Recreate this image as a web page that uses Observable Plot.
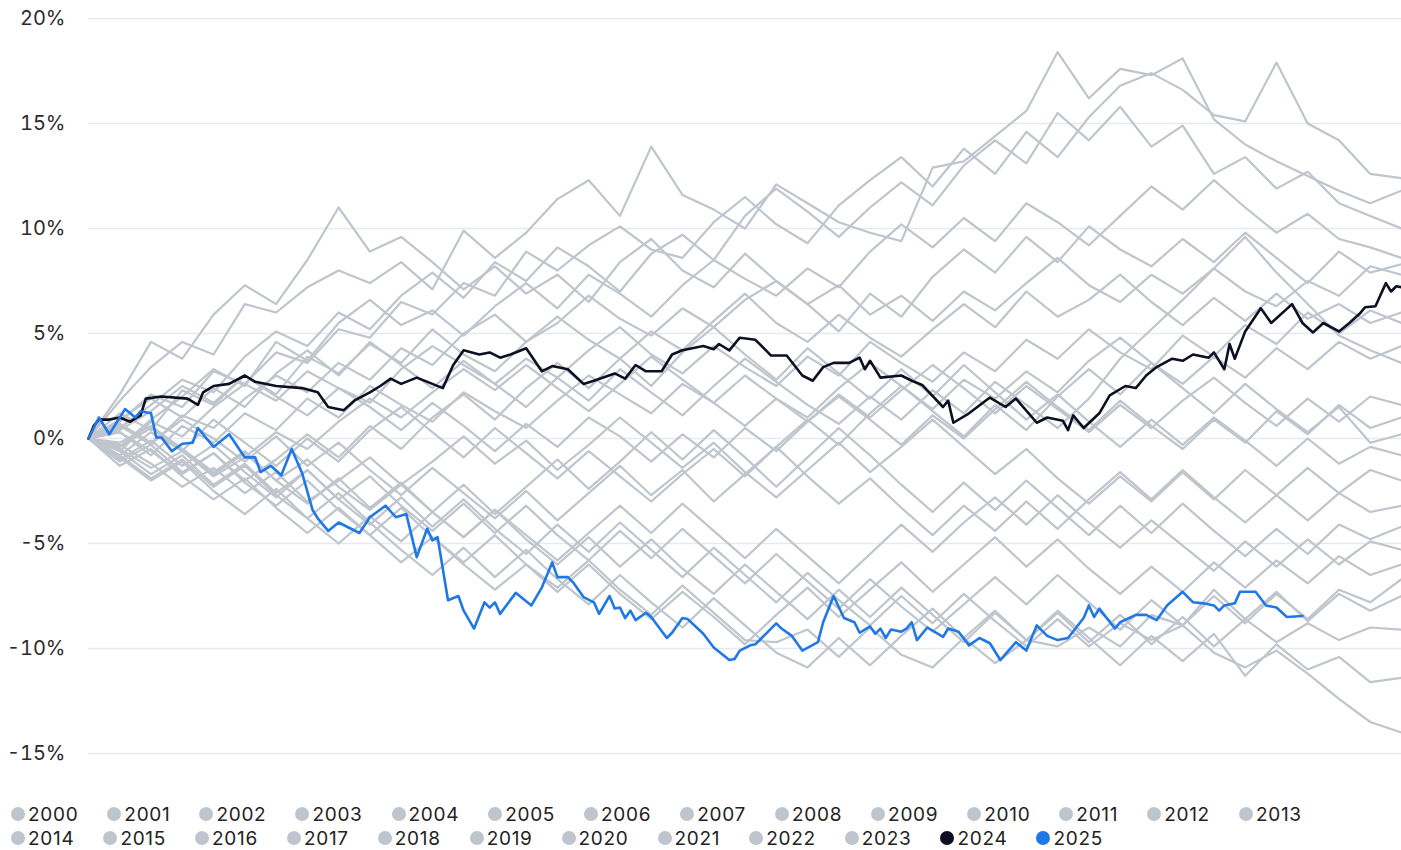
<!DOCTYPE html>
<html>
<head>
<meta charset="utf-8">
<script src="https://cdn.jsdelivr.net/npm/d3@7"></script>
<script src="https://cdn.jsdelivr.net/npm/@observablehq/plot@0.6"></script>
<style>
  html, body { margin: 0; padding: 0; background: #ffffff; }
  body { width: 1401px; height: 850px; overflow: hidden; font-family: Inter, "Noto Sans", sans-serif; }
  #chart svg { display: block; }
  #legend { padding: 0 0 0 11px; margin-top: 17px; }
  .row { display: flex; height: 24px; align-items: center; }
  .item { display: flex; align-items: center; margin-right: 29px; font-size: 19px; letter-spacing: 0.7px; color: #222; }
  .sw { width: 14px; height: 14px; border-radius: 50%; margin-right: 3px; flex: none; }
</style>
</head>
<body>
<div id="chart"></div>
<div id="legend"></div>
<script>
// ---- data ----
const years = [2000,2001,2002,2003,2004,2005,2006,2007,2008,2009,2010,2011,2012,2013,2014,2015,2016,2017,2018,2019,2020,2021,2022,2023,2024,2025];
const yTicks = [-15,-10,-5,0,5,10,15,20];

// sample trading days used for the grey (past) years
const greyDays = [0,6,12,18,24,30,36,42,48,54,60,66,72,78,84,90,96,102,108,114,120,126,132,138,144,150,156,162,168,174,180,186,192,198,204,210,216,222,228,234,240,246,252];

const v2000 = [0,-0.4,0.9,2.0,3.3,2.5,4.6,3.7,5.5,6.6,5.4,6.1,4.9,6.3,7.4,6.2,7.8,6.9,5.8,7.3,8.5,7.6,6.8,8.1,7.2,8.9,10.2,9.1,10.5,9.4,11.2,10.3,9.2,10.6,12.0,10.9,12.3,11.0,9.8,10.7,9.5,9.1,8.6];
const v2001 = [0,-0.9,-2.0,-1.1,-2.5,-3.6,-2.4,-3.8,-5.0,-3.7,-4.9,-3.5,-2.2,-3.6,-2.3,-1.0,-2.4,-1.1,0.3,-1.0,0.4,-0.9,-2.3,-0.9,0.5,-0.8,-2.2,-3.5,-2.1,-3.4,-2.0,-3.3,-4.6,-3.2,-4.5,-3.1,-4.4,-5.6,-4.3,-5.5,-4.1,-4.8,-4.2];
const v2002 = [0,-1.0,-0.1,-1.3,-0.3,-1.6,-2.8,-1.5,-2.9,-4.1,-2.8,-4.2,-2.9,-4.3,-5.5,-4.1,-5.4,-4.0,-5.3,-6.6,-5.2,-6.5,-7.8,-6.4,-7.7,-8.9,-7.5,-8.8,-7.4,-8.7,-9.9,-8.6,-9.9,-8.8,-9.6,-8.9,-10.2,-10.9,-10.1,-11.2,-12.4,-13.5,-14.0];
const v2003 = [0,0.5,1.6,2.8,2.2,3.9,5.1,4.4,6.0,5.2,6.8,7.9,6.7,8.4,7.5,9.1,8.2,7.0,8.8,9.7,8.5,10.6,11.9,10.8,9.6,11.0,12.2,11.1,13.0,14.2,13.1,15.5,14.2,15.8,13.9,14.9,12.6,13.4,11.9,12.7,11.2,10.6,10.0];
const v2004 = [0,0.4,1.3,2.5,1.7,3.0,2.0,1.1,2.4,1.5,0.4,1.7,0.6,-0.6,0.7,-0.4,1.0,0.1,-1.1,0.2,-0.9,0.5,-0.6,0.8,2.0,0.9,-0.3,1.1,0.0,1.4,2.7,1.5,0.4,1.8,0.6,-0.5,0.9,-0.2,1.3,0.2,1.6,0.5,1.0];
const v2005 = [0,-1.1,-0.3,-1.6,-0.7,-2.0,-1.0,0.2,-0.9,0.6,-0.5,1.0,2.1,0.9,2.4,3.6,2.4,3.8,2.5,4.1,5.3,4.0,2.8,4.3,3.1,1.9,3.3,2.0,3.5,2.2,0.9,2.1,0.8,-0.4,0.9,-0.3,1.0,-0.1,-1.3,0.0,-1.2,-0.4,-0.8];
const v2006 = [0,1.2,0.4,2.3,1.6,3.0,2.1,3.9,3.1,4.5,3.6,5.2,4.0,3.2,4.6,5.8,4.7,3.8,5.1,4.2,5.6,6.9,5.5,4.6,5.9,4.8,3.9,5.2,6.4,5.3,7.0,5.8,6.6,7.8,6.5,5.4,6.7,5.6,6.9,5.7,6.4,5.5,6.0];
const v2007 = [0,0.7,-0.2,0.9,0.0,-1.1,0.1,-1.3,-0.2,-1.5,-2.7,-1.4,-2.6,-3.8,-2.5,-3.9,-2.6,-1.3,-2.7,-1.5,-3.0,-1.7,-0.4,-1.8,-3.1,-1.9,-3.3,-4.6,-3.2,-4.4,-3.0,-4.3,-2.9,-1.6,-2.9,-1.5,-2.8,-4.0,-2.7,-3.9,-2.6,-3.5,-3.2];
const v2008 = [0,-0.4,0.5,-0.6,-1.7,-0.7,-2.0,-3.1,-1.9,-3.3,-2.1,-3.5,-4.7,-3.4,-4.8,-6.0,-4.7,-6.1,-4.8,-6.2,-7.4,-6.0,-7.3,-8.6,-7.2,-8.5,-7.1,-8.4,-9.7,-8.3,-9.6,-8.2,-9.5,-10.8,-9.4,-10.6,-9.3,-11.3,-9.8,-11.0,-10.4,-11.6,-11.4];
const v2009 = [0,1.8,3.4,4.6,4.0,6.4,6.0,7.2,8.0,7.4,8.4,7.1,9.9,8.6,9.8,11.4,12.3,10.6,13.9,11.6,10.9,10.0,12.1,11.2,10.3,9.8,9.4,12.9,13.2,14.4,15.6,18.4,16.2,17.6,17.3,18.1,15.2,14.0,13.2,12.5,11.8,11.2,11.8];
const v2010 = [0,0.9,1.9,1.0,2.4,1.5,3.1,4.2,3.0,4.6,3.5,2.4,3.7,2.6,1.5,2.9,1.8,3.3,2.2,1.1,2.5,3.8,2.7,1.6,0.7,2.0,0.9,2.3,1.2,2.7,1.6,0.5,1.9,3.8,5.2,6.6,8.1,9.6,7.9,6.4,4.9,4.2,3.6];
const v2011 = [0,-0.2,0.6,-0.5,-1.6,-0.6,-2.0,-1.0,-2.3,-3.4,-2.2,-3.5,-4.7,-3.4,-4.6,-5.8,-4.5,-3.2,-4.5,-3.1,-4.4,-5.7,-4.3,-5.6,-6.9,-5.5,-4.1,-5.4,-4.0,-2.8,-4.1,-2.7,-4.0,-5.2,-3.9,-5.1,-6.3,-4.9,-6.1,-4.8,-6.0,-4.9,-5.3];
const v2012 = [0,-0.6,0.8,0.1,1.5,2.6,1.8,3.2,2.4,1.7,3.3,4.4,3.5,2.6,3.8,2.9,4.2,5.3,4.0,3.1,4.4,3.4,2.5,3.9,3.0,4.6,3.6,2.7,4.1,3.2,4.7,3.8,5.2,4.1,3.3,4.9,3.9,5.4,4.5,6.0,5.0,6.1,5.5];
const v2013 = [0,0.8,2.1,1.5,3.2,2.6,4.1,3.6,5.2,4.8,6.5,5.9,7.4,6.8,8.9,8.0,9.2,10.1,9.0,8.6,10.3,11.5,10.2,9.3,11.1,12.3,13.4,12.0,13.8,12.6,14.6,13.4,15.3,16.8,17.4,16.6,15.4,15.1,17.9,15.0,14.2,12.6,12.4];
const v2014 = [0,-0.5,-1.4,-0.6,-1.8,-0.9,0.3,-0.5,0.8,1.9,1.0,2.2,3.3,2.3,3.5,2.4,1.3,2.6,3.9,2.8,1.7,3.0,1.9,0.8,2.1,1.0,2.3,3.5,2.4,1.2,2.5,1.4,0.3,1.6,0.5,1.8,2.9,1.7,0.6,1.9,0.8,2.0,1.6];
const v2015 = [0,-0.6,-1.7,-0.8,-2.2,-1.2,-2.6,-1.5,-2.9,-1.8,-3.2,-4.4,-3.1,-4.5,-3.2,-4.6,-5.8,-4.4,-5.7,-4.3,-5.6,-6.9,-5.5,-6.8,-8.1,-6.7,-8.0,-9.2,-7.9,-6.6,-7.9,-6.5,-7.8,-9.1,-7.7,-8.9,-7.5,-8.8,-7.4,-8.6,-7.2,-7.8,-6.7];
const v2016 = [0,0.6,-0.3,1.1,0.5,1.9,3.0,2.2,3.6,2.8,4.3,3.5,5.0,5.9,4.6,5.5,6.8,5.7,4.9,6.2,5.3,6.6,7.5,6.4,5.1,6.9,5.8,7.7,9.0,7.9,9.6,8.4,10.1,9.0,8.2,9.5,8.4,9.8,8.6,7.4,8.9,7.9,8.3];
const v2017 = [0,2.1,4.6,3.8,5.9,7.3,6.4,8.5,11.0,8.9,9.6,8.4,7.1,8.2,6.9,7.8,6.5,8.4,9.5,8.0,7.2,8.8,7.5,6.4,7.3,5.9,6.8,5.6,7.0,6.1,7.4,8.6,7.3,6.5,7.8,6.9,8.1,7.0,6.3,7.5,6.8,8.2,7.8];
const v2018 = [0,-0.8,-1.9,-1.0,-2.3,-1.3,-2.7,-3.8,-2.6,-4.0,-5.3,-6.5,-5.2,-6.6,-5.3,-6.7,-7.9,-6.5,-7.8,-9.0,-7.6,-8.9,-10.2,-10.9,-9.5,-10.8,-9.4,-8.1,-9.5,-8.2,-9.6,-8.3,-9.7,-8.4,-9.8,-8.5,-9.9,-8.6,-9.7,-8.8,-9.6,-9.0,-9.1];
const v2019 = [0,0.3,-0.8,0.6,-0.2,1.2,0.4,1.9,1.0,2.5,1.6,0.8,2.2,1.3,0.5,1.8,3.0,2.1,1.2,2.6,1.7,0.6,1.9,1.0,2.4,3.6,2.5,1.4,2.8,1.9,3.2,2.2,3.7,4.8,3.6,2.6,3.9,2.9,4.3,3.3,4.6,3.8,4.4];
const v2020 = [0,-1.3,-0.5,-1.8,-2.9,-1.9,-3.3,-4.5,-3.3,-4.6,-5.9,-4.7,-6.0,-7.2,-6.0,-7.3,-6.0,-7.4,-8.6,-7.3,-8.5,-9.8,-8.4,-7.1,-8.5,-7.2,-5.9,-7.3,-6.0,-4.7,-6.1,-4.8,-6.2,-7.4,-6.1,-7.3,-5.9,-7.1,-5.8,-6.9,-5.6,-6.5,-6.0];
const v2021 = [0,-0.8,0.3,-0.6,0.9,-0.2,-1.3,0.0,-1.1,0.4,1.5,0.3,-0.9,0.5,-0.7,-1.9,-0.6,-1.8,-3.0,-1.7,-0.5,-1.8,-0.4,0.9,-0.3,1.2,2.5,1.3,0.1,1.6,0.4,2.0,3.3,2.1,3.6,2.4,1.2,2.6,1.4,0.3,1.5,-0.2,0.2];
const v2022 = [0,0.3,-0.6,-1.7,-0.7,-2.1,-3.2,-2.0,-3.4,-4.6,-3.3,-4.7,-5.9,-4.6,-6.0,-7.1,-5.8,-7.2,-8.4,-7.0,-8.3,-9.6,-9.7,-9.1,-10.4,-9.0,-10.3,-10.9,-9.5,-10.7,-9.6,-9.9,-9.0,-9.9,-8.4,-8.9,-7.2,-8.6,-7.3,-8.7,-7.4,-8.2,-7.5];
const v2023 = [0,-0.3,-1.2,-2.3,-1.4,-2.6,-1.6,-3.0,-2.0,-0.9,-2.2,-1.1,0.1,-1.2,-0.1,-1.5,-0.3,1.0,-0.2,-1.4,-0.2,-1.6,-2.8,-1.5,-0.2,-1.6,-0.4,0.9,-0.4,-1.7,-0.5,-1.9,-3.1,-1.8,-3.0,-1.6,-2.9,-1.5,-2.7,-1.4,-2.6,-1.5,-2.0];

// 2024 (black) — trading day, cumulative % change
const days2024 = [0,1,2,4,6,8,10,11,14,19,21,22,24,27,30,32,36,41,44,46,49,51,54,56,58,60,63,66,68,70,72,75,77,79,81,84,87,89,92,95,97,101,103,105,107,110,112,114,118,120,121,123,125,128,131,134,137,139,141,143,146,148,149,150,152,156,158,160,164,165,166,169,173,176,178,182,184,187,188,189,191,194,196,199,201,203,205,208,210,212,215,216,218,219,220,222,225,227,231,232,233,235,237,240,242,244,245,247,249,250,251,252];
const vals2024 = [0,0.6,0.9,0.9,1.0,0.8,1.1,1.9,2.0,1.9,1.6,2.2,2.5,2.6,3.0,2.7,2.5,2.4,2.2,1.5,1.35,1.8,2.2,2.5,2.85,2.6,2.9,2.6,2.4,3.5,4.2,4.0,4.1,3.85,4.0,4.3,3.2,3.45,3.3,2.6,2.75,3.1,2.85,3.5,3.2,3.2,4.0,4.2,4.4,4.25,4.5,4.2,4.8,4.7,3.95,3.95,3.0,2.75,3.4,3.6,3.6,3.85,3.3,3.7,2.9,3.0,2.75,2.55,1.5,1.8,0.75,1.2,1.95,1.5,1.9,0.75,1.0,0.85,0.4,1.1,0.5,1.2,2.05,2.5,2.4,3.0,3.4,3.8,3.7,4.0,3.85,4.1,3.3,4.5,3.8,5.1,6.2,5.5,6.4,5.95,5.5,5.05,5.5,5.1,5.5,5.95,6.25,6.3,7.4,7.0,7.25,7.2];

// 2025 (blue) — year to date
const days2025 = [0,2,4,7,9,10,12,13,14,16,18,20,21,24,27,30,32,33,35,37,39,41,43,44,46,48,52,54,57,59,61,63,65,66,67,69,71,72,74,76,77,78,79,82,85,87,89,90,92,93,95,97,98,100,101,102,103,104,105,107,108,111,112,114,115,118,120,123,124,125,127,128,130,132,133,135,137,140,141,143,145,147,148,150,151,152,153,154,156,157,158,159,161,164,165,167,169,171,173,175,178,180,182,184,186,188,191,192,193,194,197,198,201,203,205,207,210,212,214,216,217,218,220,221,224,226,228,230,233];
const vals2025 = [0,1.0,0.2,1.4,1.0,1.3,1.2,0.05,0.05,-0.6,-0.25,-0.2,0.5,-0.4,0.2,-0.9,-0.9,-1.6,-1.3,-1.75,-0.5,-1.65,-3.4,-3.8,-4.4,-4.0,-4.5,-3.75,-3.2,-3.75,-3.6,-5.65,-4.3,-4.85,-4.7,-7.7,-7.5,-8.2,-9.05,-7.8,-8.05,-7.8,-8.35,-7.35,-7.95,-7.1,-5.9,-6.6,-6.6,-6.85,-7.55,-7.8,-8.35,-7.5,-8.1,-8.05,-8.55,-8.2,-8.65,-8.3,-8.5,-9.5,-9.25,-8.55,-8.6,-9.3,-9.95,-10.55,-10.5,-10.1,-9.85,-9.8,-9.3,-8.8,-9.05,-9.4,-10.1,-9.7,-8.75,-7.5,-8.55,-8.75,-9.25,-8.95,-9.3,-9.05,-9.5,-9.1,-9.2,-9.05,-8.75,-9.6,-9.0,-9.45,-9.05,-9.2,-9.85,-9.5,-9.75,-10.55,-9.7,-10.1,-8.9,-9.4,-9.6,-9.5,-8.55,-7.95,-8.5,-8.1,-9.05,-8.75,-8.4,-8.4,-8.65,-7.95,-7.3,-7.8,-7.85,-7.95,-8.2,-7.95,-7.85,-7.3,-7.3,-7.95,-8.05,-8.5,-8.45];

const greyColor = "#bfc5cd";
const colors = {2024: "#0e0f22", 2025: "#1f78e6"};

// ---- build tables ----
const greySeries = {2000:v2000,2001:v2001,2002:v2002,2003:v2003,2004:v2004,2005:v2005,2006:v2006,2007:v2007,2008:v2008,2009:v2009,2010:v2010,2011:v2011,2012:v2012,2013:v2013,2014:v2014,2015:v2015,2016:v2016,2017:v2017,2018:v2018,2019:v2019,2020:v2020,2021:v2021,2022:v2022,2023:v2023};
const greyRows = [];
for (const y of years.filter(y => y < 2024)) {
  greySeries[y].forEach((v, i) => greyRows.push({year: y, day: greyDays[i], value: v}));
}
const rows2024 = days2024.map((d, i) => ({day: d, value: vals2024[i]}));
const rows2025 = days2025.map((d, i) => ({day: d, value: vals2025[i]}));

const chart = Plot.plot({
  width: 1401,
  height: 785,
  marginLeft: 88,
  marginRight: 0,
  marginTop: 18,
  marginBottom: 32,
  style: {fontFamily: "Inter, 'Noto Sans', sans-serif", fontSize: "20px", color: "#2b2b2b", background: "#fff"},
  x: {domain: [0, 252], axis: null},
  y: {domain: [-15, 20], axis: null},
  marks: [
    Plot.ruleY(yTicks, {stroke: "#e7e9ed", strokeWidth: 1.5}),
    Plot.axisY(yTicks, {tickSize: 0, tickPadding: 23, tickFormat: d => d + "%", label: null, fill: "#2b2b2b", fontSize: 20}),
    Plot.lineY(greyRows, {x: "day", y: "value", z: "year", stroke: greyColor, strokeWidth: 2.2, curve: "linear"}),
    Plot.lineY(rows2024, {x: "day", y: "value", stroke: colors[2024], strokeWidth: 2.6}),
    Plot.lineY(rows2025, {x: "day", y: "value", stroke: colors[2025], strokeWidth: 2.6})
  ]
});
document.getElementById("chart").appendChild(chart);

// ---- legend (two rows) ----
const legend = d3.select("#legend");
const rowsOfYears = [years.slice(0, 14), years.slice(14)];
for (const r of rowsOfYears) {
  const row = legend.append("div").attr("class", "row");
  for (const y of r) {
    const it = row.append("div").attr("class", "item");
    it.append("span").attr("class", "sw").style("background", colors[y] || greyColor);
    it.append("span").text(String(y));
  }
}
</script>
</body>
</html>
